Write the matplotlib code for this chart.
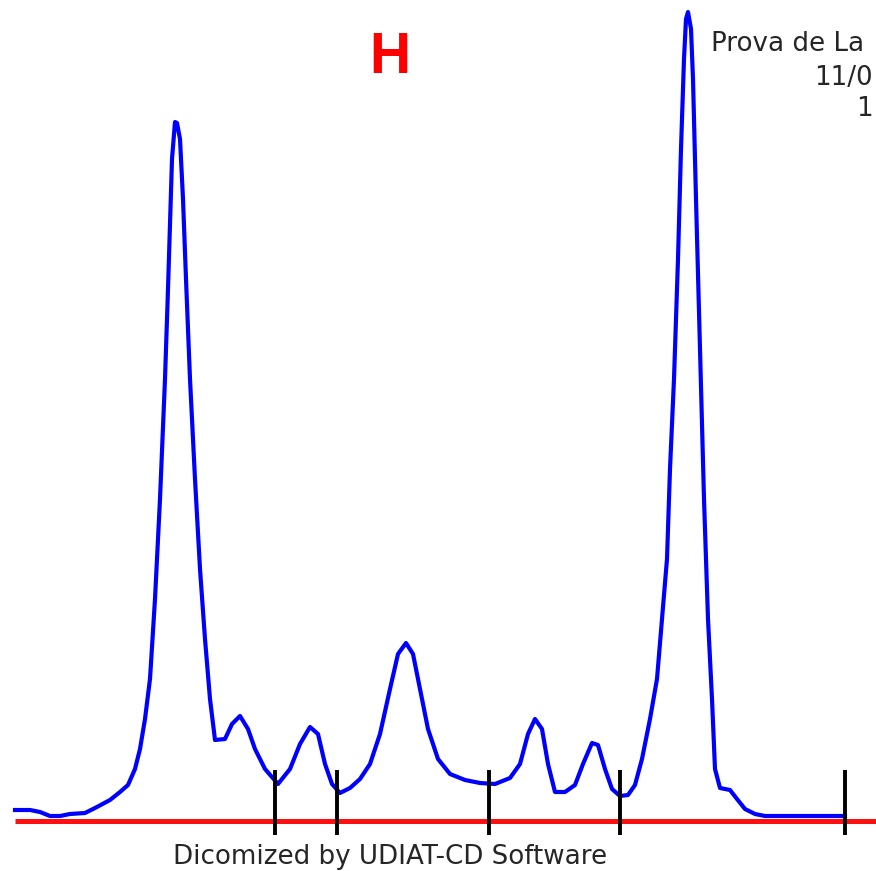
import matplotlib
matplotlib.use("Agg")
import matplotlib.pyplot as plt

# Densitometry trace: x position (px units), height above baseline
trace_x = [15, 30, 40, 50, 60, 70, 85, 95, 110, 120, 128, 135, 140, 145, 150, 155, 160, 165, 168, 172, 175,
           177, 180, 183, 186, 190, 195, 200, 205, 210, 215, 225, 232, 240, 248, 255, 265, 278, 290, 300,
           310, 318, 325, 332, 340, 350, 360, 370, 380, 390, 398, 406, 413, 420, 428, 438, 450, 465, 480,
           495, 510, 520, 528, 535, 542, 548, 555, 565, 575, 583, 592, 598, 605, 612, 620, 628, 635, 642,
           650, 657, 662, 667, 670, 674, 678, 681, 684, 686, 688, 691, 693, 696, 700, 704, 708, 712, 715,
           720, 730, 737, 745, 755, 765, 845]
trace_y = [9, 9, 7, 3, 3, 5, 6, 11, 19, 27, 34, 50, 70, 100, 140, 220, 320, 440, 530, 660, 697,
           696, 680, 620, 540, 440, 340, 250, 180, 120, 79, 80, 95, 103, 90, 70, 50, 35, 50, 75,
           92, 85, 55, 35, 26, 31, 40, 55, 85, 130, 165, 176, 165, 130, 90, 60, 45, 39, 36,
           35, 41, 55, 85, 100, 90, 55, 27, 27, 34, 55, 76, 74, 50, 30, 23, 24, 34, 60,
           100, 140, 200, 260, 350, 440, 560, 670, 760, 800, 807, 790, 740, 620, 470, 320, 200, 120, 50,
           31, 29, 20, 10, 5, 3, 3]

marker_x = [275, 337, 489, 620, 845]
marker_lo, marker_hi = -16, 49
baseline_y = -2

title_text = "H"
header_lines = ["Prova de La", "11/0", "1"]
footer_text = "Dicomized by UDIAT-CD Software"

W, H = 876, 871
fig = plt.figure(figsize=(W / 100, H / 100), dpi=100)
ax = fig.add_axes([0, 0, 1, 1])
ax.set_xlim(0, W)
ax.set_ylim(819 - H, 819)
ax.axis("off")

ax.plot([15, W], [baseline_y, baseline_y], color="#ff1010", lw=3.6, solid_capstyle="butt", zorder=1)
ax.plot(trace_x, trace_y, color="#0000ff", lw=3.0, zorder=2)
ax.vlines(marker_x, marker_lo, marker_hi, color="black", lw=2.8, zorder=3)

ax.text(390, 819 - 58, title_text, color="#ff0000", fontsize=41, fontweight="bold",
        ha="center", va="center", family="Liberation Sans")
txt_kw = dict(color="#262626", fontsize=18.8, va="center", family="DejaVu Sans")
ax.text(711, 819 - 44, header_lines[0], ha="left", **txt_kw)
ax.text(873, 819 - 78, header_lines[1], ha="right", **txt_kw)
ax.text(873, 819 - 109, header_lines[2], ha="right", **txt_kw)
ax.text(390, 819 - 857, footer_text, color="#262626", fontsize=18.8,
        ha="center", va="center", family="DejaVu Sans")

fig.savefig("out.png", dpi=100)
